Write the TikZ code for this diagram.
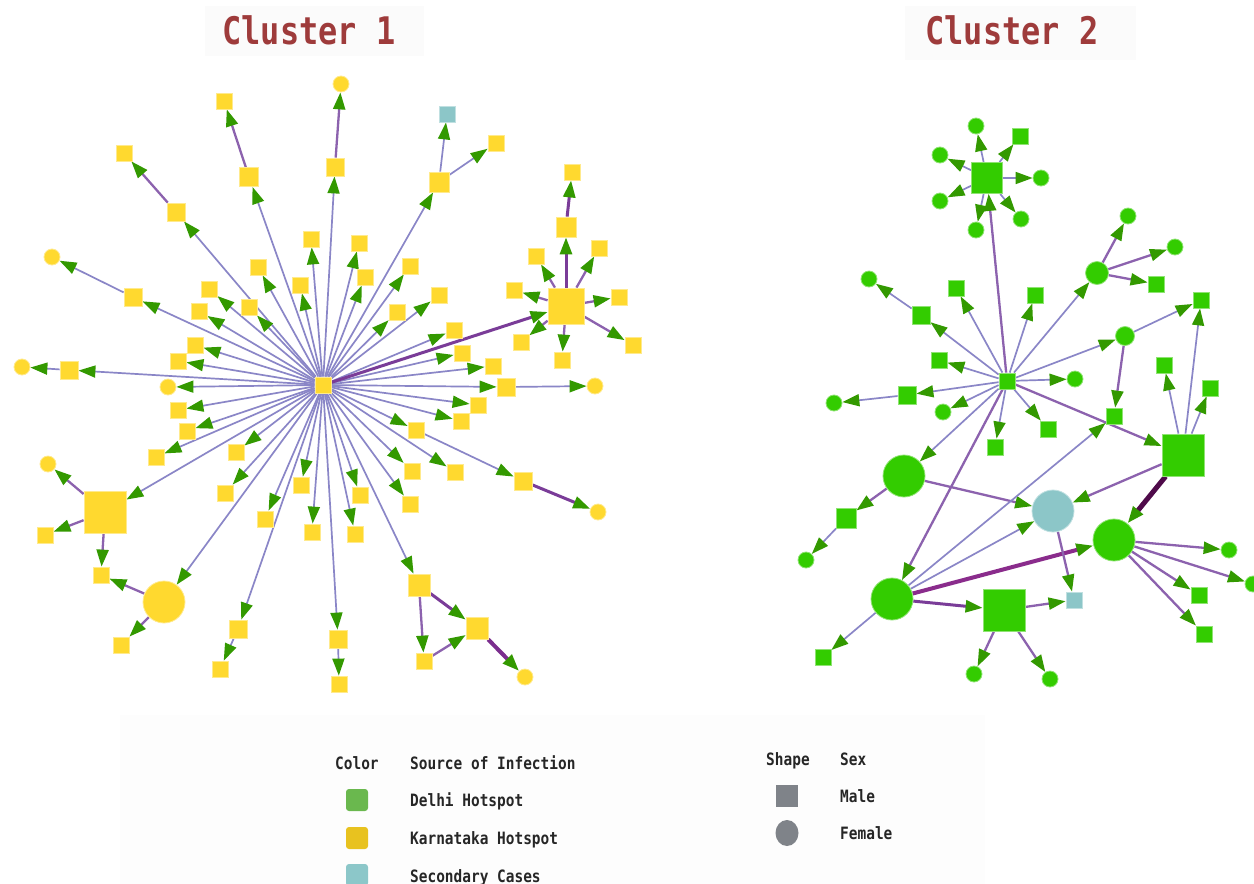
\documentclass[tikz,border=0pt]{standalone}
\usepackage{fontspec}
\setmonofont{DejaVu Sans Mono}
\usepackage{graphicx}
\usetikzlibrary{arrows.meta,shapes.geometric}
\definecolor{kyel}{HTML}{FFD92F}
\definecolor{dgrn}{HTML}{33CC00}
\definecolor{tealc}{HTML}{8CC6C8}
\definecolor{agrn}{HTML}{339900}
\definecolor{lav}{HTML}{8A86C7}
\definecolor{pur}{HTML}{8C62AE}
\definecolor{dpur}{HTML}{7A3C98}
\definecolor{vdpur}{HTML}{4F0A4A}
\definecolor{magp}{HTML}{8A2C8C}
\definecolor{ppur}{HTML}{7B2E8E}
\definecolor{ttl}{HTML}{9E3B3B}
\definecolor{lgry}{HTML}{7F8389}
\definecolor{lgrn}{HTML}{6AB84E}
\definecolor{lyel}{HTML}{E8C21F}
\definecolor{lteal}{HTML}{8CC7C9}
\pgfdeclarelayer{back}
\pgfdeclarelayer{bg}
\pgfsetlayers{back,bg,main}
\newcommand\lgtx[1]{\scalebox{0.85}[1]{#1}}
\tikzset{
 ysq/.style={rectangle, fill=kyel, draw=kyel!55!white, line width=0.8pt, inner sep=0pt, minimum size=#1}, ysq/.default=16,
 ycir/.style={circle, fill=kyel, draw=kyel!55!white, line width=0.8pt, inner sep=0pt, minimum size=#1}, ycir/.default=16,
 gsq/.style={rectangle, fill=dgrn, draw=dgrn!55!white, line width=0.8pt, inner sep=0pt, minimum size=#1}, gsq/.default=16,
 gcir/.style={circle, fill=dgrn, draw=dgrn!55!white, line width=0.8pt, inner sep=0pt, minimum size=#1}, gcir/.default=16,
 tsq/.style={rectangle, fill=tealc, draw=tealc!55!white, line width=0.8pt, inner sep=0pt, minimum size=#1}, tsq/.default=16,
 tcir/.style={circle, fill=tealc, draw=tealc!55!white, line width=0.8pt, inner sep=0pt, minimum size=#1}, tcir/.default=16,
 gtip/.style={-{Triangle[length=17pt,width=12pt,color=agrn]}},
 e1/.style={gtip, draw=lav, line width=1.7pt},
 e2/.style={gtip, draw=pur, line width=2.3pt},
 e3/.style={gtip, draw=dpur, line width=3pt},
 e4/.style={gtip, draw=vdpur, line width=5pt},
 e5/.style={gtip, draw=magp, line width=4pt},
 e6/.style={gtip, draw=ppur, line width=4pt},
 lgd/.style={font=\ttfamily\bfseries\fontsize{17}{17}\selectfont, text=black!85, inner sep=0pt, anchor=base west},
 ttlfont/.style={font=\ttfamily\bfseries\fontsize{38}{38}\selectfont, text=ttl, inner sep=0pt},
 swatch/.style={rectangle, rounded corners=3pt, minimum size=22pt, inner sep=0pt},
}
\begin{document}
\begin{tikzpicture}[x=1pt,y=-1pt]
\useasboundingbox (0,0) rectangle (1254,884);
\begin{pgfonlayer}{back}
\fill[white] (0,0) rectangle (1254,884);
\fill[black!1.5] (205,6) rectangle (424,56);
\fill[black!1.5] (905,6) rectangle (1136,60);
\fill[black!0.8] (120,715) rectangle (985,884);
\end{pgfonlayer}
% titles
\node[ttlfont] (t1) at (309,30) {\scalebox{0.84}[1]{Cluster 1}};
\node[ttlfont] (t2) at (1012,30) {\scalebox{0.84}[1]{Cluster 2}};
% ---------------- Cluster 1 ----------------
\node[ysq] (h1) at (323,385) {};
\node[ysq=19] (a1) at (249,177) {};
\node[ysq] (a2) at (224,101) {};
\node[ysq=18] (a3) at (176,212) {};
\node[ysq] (a4) at (124,153) {};
\node[ysq=18] (a5) at (133,297) {};
\node[ycir] (a6) at (52,257) {};
\node[ysq=18] (a7) at (69,370) {};
\node[ycir] (a8) at (22,367) {};
\node[ysq=18] (a9) at (335,167) {};
\node[ycir] (a10) at (341,84) {};
\node[ysq=20] (a11) at (439,182) {};
\node[tsq] (a12) at (447,114) {};
\node[ysq] (a13) at (496,143) {};
\node[ysq=36] (B1) at (566,306) {};
\node[ysq=20] (a14) at (566,227) {};
\node[ysq] (a15) at (572,172) {};
\node[ysq] (a16) at (536,256) {};
\node[ysq] (a17) at (599,248) {};
\node[ysq] (a18) at (514,290) {};
\node[ysq] (a19) at (619,297) {};
\node[ysq] (a20) at (521,342) {};
\node[ysq] (a21) at (562,360) {};
\node[ysq] (a22) at (633,345) {};
\node[ysq=18] (a23) at (506,387) {};
\node[ycir] (a24) at (595,386) {};
\node[ysq] (a25) at (416,430) {};
\node[ysq=18] (a26) at (523,481) {};
\node[ycir] (a27) at (598,512) {};
\node[ysq=22] (a28) at (419,585) {};
\node[ysq=22] (a29) at (477,628) {};
\node[ysq] (a30) at (424,661) {};
\node[ycir] (a31) at (525,677) {};
\node[ysq=18] (a32) at (338,639) {};
\node[ysq] (a33) at (339,684) {};
\node[ysq=18] (a34) at (238,629) {};
\node[ysq] (a35) at (220,669) {};
\node[ycir=42] (C1) at (164,602) {};
\node[ysq] (a36) at (101,575) {};
\node[ysq] (a37) at (121,645) {};
\node[ysq=42] (B2) at (105,512) {};
\node[ycir] (a38) at (48,464) {};
\node[ysq] (a39) at (45,535) {};
\node[ysq] (l1) at (311,239) {};
\node[ysq] (l2) at (258,267) {};
\node[ysq] (l3) at (300,285) {};
\node[ysq] (l4) at (209,289) {};
\node[ysq] (l5) at (249,307) {};
\node[ysq] (l6) at (199,311) {};
\node[ysq] (l7) at (195,345) {};
\node[ysq] (l8) at (178,361) {};
\node[ycir] (l9) at (168,387) {};
\node[ysq] (l10) at (178,410) {};
\node[ysq] (l11) at (187,431) {};
\node[ysq] (l12) at (156,457) {};
\node[ysq] (l13) at (236,452) {};
\node[ysq] (l14) at (225,493) {};
\node[ysq] (l15) at (301,485) {};
\node[ysq] (l16) at (265,519) {};
\node[ysq] (l17) at (312,532) {};
\node[ysq] (l18) at (360,495) {};
\node[ysq] (l19) at (355,534) {};
\node[ysq] (l20) at (410,504) {};
\node[ysq] (l21) at (412,471) {};
\node[ysq] (l22) at (455,472) {};
\node[ysq] (l23) at (461,421) {};
\node[ysq] (l24) at (478,405) {};
\node[ysq] (l25) at (493,366) {};
\node[ysq] (l26) at (462,353) {};
\node[ysq] (l27) at (454,330) {};
\node[ysq] (l28) at (439,295) {};
\node[ysq] (l29) at (397,312) {};
\node[ysq] (l30) at (410,266) {};
\node[ysq] (l31) at (365,277) {};
\node[ysq] (l32) at (359,243) {};
% ---------------- Cluster 2 ----------------
\node[gsq] (h2) at (1007,381) {};
\node[gsq=31] (D1) at (987,178) {};
\node[gcir] (g1) at (976,126) {};
\node[gsq] (g2) at (1020,136) {};
\node[gcir] (g3) at (940,155) {};
\node[gcir] (g4) at (1041,178) {};
\node[gcir] (g5) at (940,201) {};
\node[gcir] (g6) at (1021,219) {};
\node[gcir] (g7) at (976,230) {};
\node[gcir=23] (D2) at (1097,273) {};
\node[gcir] (g8) at (1128,216) {};
\node[gcir] (g9) at (1175,247) {};
\node[gsq] (g10) at (1156,284) {};
\node[gcir] (g11) at (869,279) {};
\node[gsq=18] (g12) at (921,315) {};
\node[gsq] (g13) at (956,288) {};
\node[gsq] (g14) at (1035,295) {};
\node[gcir=19] (D3) at (1125,336) {};
\node[gsq] (g15) at (1201,300) {};
\node[gsq] (g16) at (1114,416) {};
\node[gsq] (g17) at (939,360) {};
\node[gsq] (g18) at (1164,365) {};
\node[gcir] (g19) at (1075,379) {};
\node[gsq] (g20) at (1210,388) {};
\node[gsq=18] (g21) at (907,395) {};
\node[gcir] (g22) at (834,403) {};
\node[gcir] (g23) at (943,412) {};
\node[gsq] (g24) at (1048,429) {};
\node[gsq] (g25) at (995,447) {};
\node[gsq=42] (D4) at (1183,455) {};
\node[gcir=42] (D5) at (904,476) {};
\node[gsq=20] (g26) at (846,518) {};
\node[gcir] (g27) at (806,560) {};
\node[tcir=42] (T1) at (1053,511) {};
\node[gcir=42] (D6) at (1114,540) {};
\node[gcir] (g28) at (1229,550) {};
\node[gcir] (g29) at (1253,584) {};
\node[gsq] (g30) at (1199,595) {};
\node[gsq] (g31) at (1204,634) {};
\node[gcir=42] (D7) at (892,599) {};
\node[gsq=42] (D8) at (1004,610) {};
\node[tsq] (T2) at (1074,600) {};
\node[gsq] (g32) at (823,657) {};
\node[gcir] (g33) at (974,674) {};
\node[gcir] (g34) at (1050,679) {};
% ---------------- edges ----------------
\begin{pgfonlayer}{bg}
\foreach \t in {a1,a3,a5,a7,a9,a11,a23,a25,a28,a32,a34,C1,B2,l1,l2,l3,l4,l5,l6,l7,l8,l9,l10,l11,l12,l13,l14,l15,l16,l17,l18,l19,l20,l21,l22,l23,l24,l25,l26,l27,l28,l29,l30,l31,l32}
  \draw[e1] (h1) -- (\t);
\draw[e3] (h1) -- (B1);
\draw[e2] (a1) -- (a2);
\draw[e2] (a3) -- (a4);
\draw[e1] (a5) -- (a6);
\draw[e1] (a7) -- (a8);
\draw[e2] (a9) -- (a10);
\draw[e1] (a11) -- (a12);
\draw[e1] (a11) -- (a13);
\draw[e3] (B1) -- (a14);
\draw[e3] (a14) -- (a15);
\foreach \t in {a16,a17,a18,a19,a20,a21,a22}
  \draw[e2] (B1) -- (\t);
\draw[e1] (a23) -- (a24);
\draw[e1] (a25) -- (a26);
\draw[e3] (a26) -- (a27);
\draw[e3] (a28) -- (a29);
\draw[e2] (a28) -- (a30);
\draw[e2] (a30) -- (a29);
\draw[e6] (a29) -- (a31);
\draw[e1] (a32) -- (a33);
\draw[e1] (a34) -- (a35);
\draw[e2] (C1) -- (a36);
\draw[e2] (C1) -- (a37);
\draw[e2] (B2) -- (a38);
\draw[e2] (B2) -- (a39);
\draw[e2] (B2) -- (a36);
% cluster 2
\foreach \t in {D2,D3,D5,g12,g13,g14,g17,g19,g21,g23,g24,g25}
  \draw[e1] (h2) -- (\t);
\draw[e2] (h2) -- (D1);
\draw[e2] (h2) -- (D4);
\draw[e2] (h2) -- (D7);
\foreach \t in {g1,g2,g3,g4,g5,g6,g7}
  \draw[e1] (D1) -- (\t);
\foreach \t in {g8,g9,g10}
  \draw[e2] (D2) -- (\t);
\draw[e1] (g12) -- (g11);
\draw[e1] (D3) -- (g15);
\draw[e2] (D3) -- (g16);
\draw[e1] (g21) -- (g22);
\foreach \t in {g18,g15,g20}
  \draw[e1] (D4) -- (\t);
\draw[e2] (D4) -- (T1);
\draw[e4] (D4) -- (D6);
\draw[e2] (D5) -- (g26);
\draw[e1] (g26) -- (g27);
\draw[e2] (D5) -- (T1);
\draw[e1] (D7) -- (g16);
\draw[e1] (D7) -- (T1);
\draw[e5] (D7) -- (D6);
\draw[e3] (D7) -- (D8);
\draw[e1] (D7) -- (g32);
\draw[e2] (D8) -- (T2);
\draw[e2] (D8) -- (g33);
\draw[e2] (D8) -- (g34);
\draw[e2] (T1) -- (T2);
\foreach \t in {g28,g29,g30,g31}
  \draw[e2] (D6) -- (\t);
\end{pgfonlayer}
% ---------------- legend ----------------
\node[lgd] (lc) at (335,769) {\lgtx{Color}};
\node[lgd] (ls) at (410,769) {\lgtx{Source of Infection}};
\node[swatch, fill=lgrn] (s1) at (357,800) {};
\node[swatch, fill=lyel] (s2) at (357,838) {};
\node[swatch, fill=lteal] (s3) at (357,875) {};
\node[lgd] (l_d) at (410,806) {\lgtx{Delhi Hotspot}};
\node[lgd] (l_k) at (410,844) {\lgtx{Karnataka Hotspot}};
\node[lgd] (l_s) at (410,882) {\lgtx{Secondary Cases}};
\node[lgd] (lsh) at (766,765) {\lgtx{Shape}};
\node[lgd] (lsx) at (840,765) {\lgtx{Sex}};
\node[rectangle, fill=lgry, minimum size=22pt, inner sep=0pt] (m1) at (787,796) {};
\node[ellipse, fill=lgry, minimum width=23pt, minimum height=26pt, inner sep=0pt] (m2) at (787,833) {};
\node[lgd] (lm) at (840,802) {\lgtx{Male}};
\node[lgd] (lf) at (840,839) {\lgtx{Female}};
\end{tikzpicture}
\end{document}
